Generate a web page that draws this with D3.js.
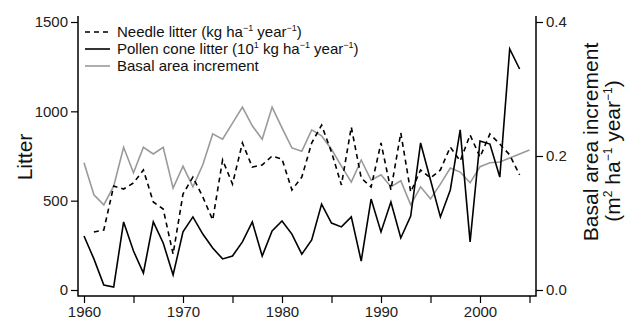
<!DOCTYPE html>
<html>
<head>
<meta charset="utf-8">
<script src="https://cdn.jsdelivr.net/npm/d3@7"></script>
<style>
  body { margin: 0; background: #fff; }
  svg { font-family: "Liberation Sans", Arial, sans-serif; }
</style>
</head>
<body>
<div id="chart"></div>
<script>
// years 1960..2005
const years = d3.range(1960, 2006);

// needle litter (kg/ha/yr), no value in 1960 and 2005
const needle = [null, 325, 336, 582, 565, 599, 672, 493, 453, 201,
  537, 632, 521, 392, 728, 593, 823, 688, 700, 750,
  733, 560, 632, 823, 923, 772, 588, 912, 627, 576,
  823, 560, 879, 548, 672, 627, 672, 800, 722, 868,
  744, 873, 817, 756, 644, null];

// pollen cone litter (10^1 kg/ha/yr)
const pollen = [302, 174, 28, 17, 381, 218, 95, 381, 263, 84,
  325, 409, 313, 235, 174, 190, 269, 381, 190, 330,
  386, 313, 201, 280, 481, 375, 353, 409, 162, 509,
  325, 493, 291, 414, 823, 616, 409, 560, 896, 269,
  834, 817, 632, 1349, 1237, null];

// basal area increment (m2/ha/yr)
const bai = [0.190, 0.142, 0.127, 0.155, 0.213, 0.175, 0.213, 0.203, 0.213, 0.152,
  0.185, 0.154, 0.187, 0.233, 0.225, 0.249, 0.273, 0.245, 0.225, 0.273,
  0.242, 0.212, 0.207, 0.239, 0.230, 0.210, 0.185, 0.161, 0.194, 0.164,
  0.172, 0.154, 0.163, 0.127, 0.154, 0.136, 0.158, 0.182, 0.176, 0.160,
  0.184, 0.190, 0.191, 0.197, 0.203, 0.209];

const litterTicks = [0, 500, 1000, 1500];
const baiTicks = [0, 0.2, 0.4];
const yearTicks = d3.range(1960, 2006, 5);
const yearLabels = [1960, 1970, 1980, 1990, 2000];

const width = 628, height = 324;
const box = { left: 78, right: 536, top: 16, bottom: 296 };

const svg = d3.select('#chart').append('svg')
  .attr('width', width)
  .attr('height', height);

const x = d3.scaleLinear().domain([1960, 2005]).range([84, 529.5]);
const yL = d3.scaleLinear().domain([0, 1500]).range([290, 22]);
const yR = d3.scaleLinear().domain([0, 0.4]).range([290, 22]);

// box (left, bottom, right)
svg.append('path')
  .attr('d', `M${box.left},${box.top}V${box.bottom}H${box.right}V${box.top}`)
  .attr('fill', 'none')
  .attr('stroke', '#000')
  .attr('stroke-width', 1.5);

function styleAxis(g) {
  g.select('.domain').remove();
  g.selectAll('line').attr('stroke', '#000').attr('stroke-width', 1.2);
  g.selectAll('text').style('font-size', '15px').attr('fill', '#222');
}

// x axis
svg.append('g')
  .attr('transform', `translate(0,${box.bottom})`)
  .call(d3.axisBottom(x).tickValues(yearTicks).tickSize(7).tickPadding(3)
    .tickFormat(d => yearLabels.includes(d) ? d : ''))
  .call(styleAxis);

// left axis
svg.append('g')
  .attr('transform', `translate(${box.left},0)`)
  .call(d3.axisLeft(yL).tickValues(litterTicks).tickSize(7).tickPadding(3)
    .tickFormat(d3.format('d')))
  .call(styleAxis);

// right axis
svg.append('g')
  .attr('transform', `translate(${box.right},0)`)
  .call(d3.axisRight(yR).tickValues(baiTicks).tickSize(7).tickPadding(3)
    .tickFormat(d3.format('.1f')))
  .call(styleAxis);

// lines
const lineL = d3.line()
  .defined(d => d[1] != null)
  .x(d => x(d[0]))
  .y(d => yL(d[1]));
const lineR = d3.line()
  .defined(d => d[1] != null)
  .x(d => x(d[0]))
  .y(d => yR(d[1]));

svg.append('path')
  .datum(years.map((yr, i) => [yr, bai[i]]))
  .attr('d', lineR)
  .attr('fill', 'none')
  .attr('stroke', '#9a9a9a')
  .attr('stroke-width', 1.6);

svg.append('path')
  .datum(years.map((yr, i) => [yr, needle[i]]))
  .attr('d', lineL)
  .attr('fill', 'none')
  .attr('stroke', '#000')
  .attr('stroke-width', 1.6)
  .attr('stroke-dasharray', '5,4');

svg.append('path')
  .datum(years.map((yr, i) => [yr, pollen[i]]))
  .attr('d', lineL)
  .attr('fill', 'none')
  .attr('stroke', '#000')
  .attr('stroke-width', 1.6);

// legend
const legendItems = [
  { dash: '5,4', color: '#000', parts: [['Needle litter (kg ha'], ['\u22121', 1], [' year'], ['\u22121', 1], [')']] },
  { dash: null, color: '#000', parts: [['Pollen cone litter (10'], ['1', 1], [' kg ha'], ['\u22121', 1], [' year'], ['\u22121', 1], [')']] },
  { dash: null, color: '#9a9a9a', parts: [['Basal area increment']] }
];

const legend = svg.append('g');
legendItems.forEach((item, i) => {
  const ly = 32 + i * 17;
  legend.append('line')
    .attr('x1', 85).attr('x2', 110)
    .attr('y1', ly).attr('y2', ly)
    .attr('stroke', item.color)
    .attr('stroke-width', 1.6)
    .attr('stroke-dasharray', item.dash);
  const t = legend.append('text')
    .attr('x', 117)
    .attr('y', ly + 5)
    .style('font-size', '15px')
    .attr('fill', '#111');
  let up = false;
  item.parts.forEach(p => {
    const sup = !!p[1];
    const ts = t.append('tspan').text(p[0]);
    if (sup) {
      ts.style('font-size', '9px').attr('dy', up ? 0 : -6);
      up = true;
    } else if (up) {
      ts.attr('dy', 6);
      up = false;
    }
  });
});

// axis titles
svg.append('text')
  .attr('transform', 'translate(32,157) rotate(-90)')
  .attr('text-anchor', 'middle')
  .style('font-size', '21px')
  .attr('fill', '#111')
  .text('Litter');

svg.append('text')
  .attr('transform', 'translate(598,142) rotate(-90)')
  .attr('text-anchor', 'middle')
  .style('font-size', '21px')
  .attr('fill', '#111')
  .text('Basal area increment');

const rt = svg.append('text')
  .attr('transform', 'translate(620,151) rotate(-90)')
  .attr('text-anchor', 'middle')
  .style('font-size', '21px')
  .attr('fill', '#111');
rt.append('tspan').text('(m');
rt.append('tspan').text('2').style('font-size', '12px').attr('dy', -8);
rt.append('tspan').text(' ha').attr('dy', 8);
rt.append('tspan').text('\u22121').style('font-size', '12px').attr('dy', -8);
rt.append('tspan').text(' year').attr('dy', 8);
rt.append('tspan').text('\u22121').style('font-size', '12px').attr('dy', -8);
rt.append('tspan').text(')').attr('dy', 8);
</script>
</body>
</html>
